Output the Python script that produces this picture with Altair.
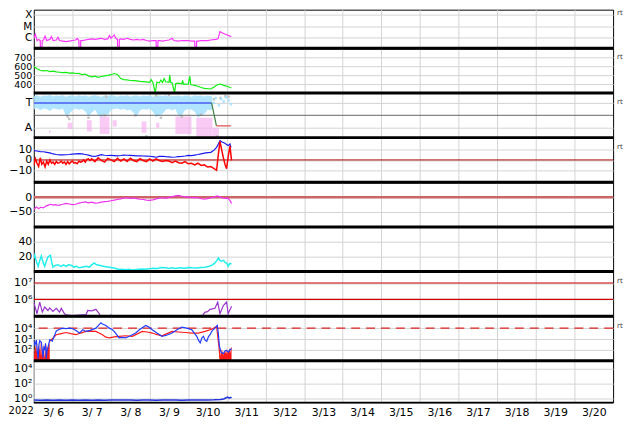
import altair as alt
import pandas as pd

W = 584
GRID = "#d3d3d3"
FONT = "DejaVu Sans"

day_grid = [24, 48, 72, 96, 120, 144, 168, 192, 216, 240, 264, 288, 312, 336]
day_ticks = [0, 24, 48, 72, 96, 120, 144, 168, 192, 216, 240, 264, 288, 312, 336]

# ---------------- data (hours since 2022-03-06 00:00, value) ----------------
xray = [(0, -6.1), (1, -5.75), (2, -6.3), (3, -6.2), (4.0, -6.3), (4.2, -7.5), (5.0, -7.5), (5.2, -6.3),
        (6, -6.25), (7, -5.9), (8, -6.3), (10, -6.2), (11, -5.95), (12, -6.3), (14, -6.25), (15, -6.0),
        (16, -6.3), (18, -6.35), (20, -6.4), (22, -6.35), (24, -6.3), (26, -6.25), (27, -6.1),
        (28.0, -6.3), (28.2, -7.5), (29.0, -7.5), (29.2, -6.3), (30, -6.3), (32, -6.25), (34, -6.2),
        (36, -6.15), (38, -6.2), (40, -6.15), (42, -6.1), (44, -6.2), (46, -6.15), (47, -5.85),
        (48, -6.1), (50, -5.8), (51, -6.1), (52.0, -6.2), (52.2, -7.5), (53.0, -7.5), (53.2, -6.2),
        (54, -6.15), (56, -6.2), (58, -6.1), (60, -6.2), (62, -6.25), (64, -6.2), (66, -6.25),
        (68, -6.2), (70, -6.3), (72, -6.35), (74, -6.3), (76.0, -6.3), (76.2, -7.5), (77.0, -7.5),
        (77.2, -6.3), (78, -6.3), (80, -6.35), (82, -6.3), (84, -6.25), (86, -6.1), (87, -6.3),
        (90, -6.35), (92, -6.3), (94, -6.3), (96, -6.3), (98, -6.35), (100.0, -6.35), (100.2, -7.5),
        (101.0, -7.5), (101.2, -6.35), (102, -6.35), (104, -6.3), (106, -6.3), (108, -6.3),
        (110, -6.25), (113, -6.2), (114.5, -6.15), (115.7, -5.5), (117, -5.6), (119, -5.73),
        (121, -5.85), (122.7, -5.95)]

speed = [(0, 598), (1, 585), (2, 572), (4, 555), (6, 548), (8, 552), (10, 540), (12, 545), (14, 536),
         (16, 532), (18, 528), (20, 530), (22, 522), (24, 526), (26, 518), (28, 520), (30, 505),
         (32, 512), (34, 492), (36, 480), (38, 488), (40, 476), (42, 485), (44, 492), (46, 498),
         (48, 505), (50, 518), (52, 508), (54, 462), (56, 450), (58, 446), (60, 440), (62, 438),
         (64, 435), (66, 430), (68, 428), (70, 425), (72, 420), (73, 450), (74, 418), (75.5, 300),
         (76.5, 420), (78, 415), (79, 445), (80, 418), (81, 460), (82, 425), (84, 420), (84.5, 500),
         (85, 420), (86, 412), (87.5, 300), (88.2, 405), (90, 410), (92, 402), (92.5, 440), (93, 400),
         (94, 400), (96, 398), (97, 488), (97.5, 395), (98, 392), (100, 385), (102, 375), (104, 362),
         (106, 352), (108, 348), (110, 345), (112, 368), (114, 392), (116, 400), (118, 385),
         (120, 375), (122, 362), (122.7, 358)]

# sector panel: light-blue band (h, lo, hi)
sector_band = [(0, 0.45, 1.55), (2, 0.6, 1.62), (4, 0.4, 1.5), (6, 0.55, 1.6), (8, 0.5, 1.58),
               (10, 0.35, 1.64), (12, 0.55, 1.52), (14, 0.5, 1.6), (16, 0.45, 1.55), (18, 0.55, 1.62),
               (20, -0.05, 1.5), (22, 0.1, 1.58), (24, 0.4, 1.6), (26, 0.55, 1.52), (28, 0.45, 1.62),
               (30, 0.5, 1.55), (32, 0.3, 1.6), (34, -0.1, 1.5), (36, 0.2, 1.58), (38, 0.45, 1.62),
               (40, 0.0, 1.55), (42, -0.2, 1.5), (44, 0.1, 1.6), (46, 0.0, 1.55), (48, 0.45, 1.62),
               (50, 0.5, 1.58), (52, 0.55, 1.5), (54, 0.45, 1.6), (56, 0.5, 1.55), (58, 0.4, 1.62),
               (60, 0.45, 1.5), (62, 0.2, 1.58), (64, -0.1, 1.6), (66, 0.4, 1.52), (68, 0.5, 1.6),
               (70, 0.45, 1.55), (72, 0.5, 1.62), (74, 0.3, 1.5), (76, -0.15, 1.58), (78, 0.0, 1.6),
               (80, 0.1, 1.55), (82, 0.45, 1.62), (84, 0.5, 1.5), (86, 0.4, 1.58), (88, 0.5, 1.55),
               (90, -0.1, 1.6), (92, 0.0, 1.52), (94, 0.4, 1.6), (96, 0.5, 1.58), (98, 0.45, 1.5),
               (100, 0.3, 1.62), (102, -0.2, 1.55), (104, 0.0, 1.6), (106, 0.1, 1.52), (108, 0.45, 1.58),
               (110, 0.4, 1.55), (111, 0.5, 1.5)]
# pink "away" clusters (h1, h2, lo, hi)
sector_away = [(9.5, 10.5, -1.4, -1.2), (21, 24, -1.1, -0.6), (33, 36, -1.3, -0.4), (41, 47, -1.5, -0.1),
               (49, 51.5, -0.9, -0.4), (67, 70, -1.4, -0.5), (76, 78, -1.0, -0.6), (88, 98, -1.5, -0.1),
               (101, 111, -1.8, -0.2), (111, 115, -1.8, -1.0)]
sector_gray = [(21, -0.1), (22, -0.3), (34, -0.2), (44, 0.0), (45, 1.5), (63, 0.0), (70, -1.7), (76, 1.6),
               (79, -0.2), (84, 1.62), (92, -0.1), (104, 0.05), (112, 1.3), (114, -1.7), (116, 1.4),
               (119, 1.55), (121, 1.5)]
sector_sparse = [(112, 1.0), (113, 1.4), (115, 0.8), (116.5, 1.3), (118, 1.1), (119.5, 1.45), (121, 1.2),
                 (122.5, 0.9)]
sector_toward = [(0, 1), (110.5, 1)]
sector_turn = [(110.5, 1), (113.5, -0.85)]
sector_final = [(113.5, -0.85), (122.5, -0.85)]

bt = [(0, 8.6), (2, 8.2), (4, 7.7), (6, 7.5), (8, 7.0), (10, 6.5), (12, 5.5), (14, 5.0), (16, 4.7),
      (18, 4.6), (20, 4.8), (22, 5.0), (24, 5.4), (26, 5.6), (28, 5.8), (30, 5.5), (32, 5.0), (34, 4.4),
      (36, 3.5), (38, 3.2), (40, 4.0), (42, 4.8), (44, 4.3), (46, 4.1), (48, 4.2), (50, 4.0), (52, 3.8),
      (54, 4.1), (56, 4.5), (58, 4.3), (60, 4.2), (62, 4.0), (64, 3.8), (66, 3.7), (68, 3.6), (70, 3.5),
      (72, 3.4), (74, 3.0), (76, 2.5), (78, 3.3), (80, 3.4), (82, 3.0), (84, 2.8), (86, 2.5), (88, 2.7),
      (90, 3.0), (92, 3.2), (94, 3.6), (96, 4.2), (98, 4.0), (100, 4.5), (102, 5.0), (104, 5.6),
      (106, 6.2), (108, 6.8), (110, 7.0), (112, 9.0), (113.6, 11.6), (114.7, 14.7), (115.7, 17.7),
      (117, 16.5), (118.5, 15.5), (120, 14.0), (120.8, 13.2), (121.9, 14.7), (122.3, 12.5),
      (122.7, 11.6)]
bz = [(0, -5), (1, 1), (2, -3), (3, -6), (4, 2), (5, -4), (6, -2), (7, -6.5), (8, -1), (9, -4), (10, 0),
      (11, -3), (12, -2), (13, -4), (14, -1.5), (15, -3), (16, -2.5), (17, -1), (18, -3), (19, -2),
      (20, -4), (21, -1.5), (22, -3.5), (23, -2), (24, -1), (25, -3), (26, -2.5), (27, -3.5), (28, -1),
      (29, -2), (30, -1.5), (31, 0), (32, -2), (33, 0.5), (34, 1), (35, -0.5), (36, 1), (38, -1.5),
      (40, 2), (42, -0.5), (44, -2), (46, 1.5), (48, 0), (50, -1.5), (52, 1.5), (54, -1), (56, 1),
      (58, -1.5), (60, 1.5), (62, -0.5), (64, -1.5), (66, 1.2), (68, -0.5), (70, -1.5), (72, 1),
      (74, -1), (76, 1), (78, -0.5), (80, -1.5), (82, -0.5), (84, -1), (86, -2.5), (88, -1), (90, -2.5),
      (92, -3), (94, -1.5), (96, -3.5), (98, -3), (100, -4.5), (102, -3), (104, -5), (106, -4.5),
      (108, -6.5), (110, -6), (112, -8), (113.6, -9.5), (114.6, 4), (115.7, 17), (116.8, 9),
      (117.8, 2), (118.8, -4), (119.8, -8), (120.8, 3), (121.9, 13), (122.4, 6), (122.9, -0.5)]

dst = [(0, -43), (1.5, -33), (3, -38), (4.5, -34), (6, -36), (7.5, -30), (9, -27), (10.5, -24), (12, -27),
       (13.5, -25), (15, -28), (16.5, -26), (18, -24), (20, -21), (22, -23), (24, -25), (26, -24),
       (28, -20), (30, -18), (32, -16), (34, -19), (36, -17), (38, -20), (40, -19), (42, -17), (44, -15),
       (46, -14), (48, -12), (50, -10), (52, -8), (54, -6), (56, -3), (58, -2), (60, -4), (62, -3),
       (64, -5), (66, -7), (68, -8), (70, -10), (72, -11), (74, -9), (76, -6), (78, -3), (80, -2),
       (82, -4), (84, -1), (86, 2), (88, 4), (90, 6), (92, 3), (94, 0), (96, 1), (98, -2), (100, -1),
       (102, -2), (104, -5), (106, -7), (108, -5), (110, -2), (112, 0), (114, 4), (115.5, 1), (117, -2),
       (119, -4), (120.5, -3), (122, -12), (122.9, -21)]

dens = [(0, 18), (0.6, 22), (1.5, 14), (2.7, 7), (3.7, 15), (4.7, 21), (5.8, 12), (6.8, 7), (7.8, 14),
        (8.8, 19.6), (10.3, 22), (11.2, 12), (11.9, 6), (13, 8), (15, 9), (17, 7), (18.5, 9), (20, 7),
        (21.5, 9), (23.2, 8.4), (25, 6), (26.5, 7), (28.4, 5), (30.5, 6), (32.5, 7), (34.5, 6), (36, 9),
        (37.6, 11.6), (39, 9), (40.7, 8.4), (43, 7), (45, 6.5), (46.9, 5.8), (49, 5), (51, 4), (53, 2.7),
        (55, 3), (57, 2.5), (59, 3.2), (61.2, 2.2), (64, 2.8), (67, 3.5), (69, 3), (71.5, 3.6), (74, 4.5),
        (77, 4), (79, 5.5), (81.8, 5), (84, 4.2), (86, 5), (88, 4), (91, 5.2), (94, 4.5), (96, 5.5),
        (98.2, 5), (101, 4.8), (104, 5.5), (106.5, 5.8), (109, 7), (111, 9), (112.6, 11.6), (113.8, 15),
        (114.7, 18.2), (115.7, 15), (116.7, 13.8), (118, 15), (119, 12), (119.8, 11.6), (120.8, 7),
        (121.8, 11), (122.9, 10.2)]

proton = [(0, 5.83), (0.6, 5.62), (2.0, 5.12), (3.7, 5.83), (5.3, 5.22), (6.8, 5.53), (8.8, 5.32),
          (9.9, 5.48), (11.9, 5.26), (14, 5.45), (16, 5.22), (17.1, 5.45), (19.1, 5.12), (20.1, 5.05),
          (24, 5.0), (28, 5.03), (32.5, 5.06), (33.5, 5.32), (36, 5.3), (38.6, 5.39), (40.7, 5.12),
          (41.7, 4.9), (42, None), (47.5, 4.9), (47.9, 5.02), (48.3, 4.9), (49, None), (98.2, 4.95),
          (99, 5.02), (100, 5.0), (101, 4.9), (102, None), (104, 4.9), (106.5, 5.22), (108, 5.25),
          (109.5, 5.39), (112.6, 5.45), (114.3, 5.83), (115.7, 5.12), (117.8, 5.62), (119.8, 5.83),
          (120.8, 5.12), (122.9, 5.58)]

elec_blue = [(0, 2.85), (0.6, 2.4), (1.6, 2.9), (2.2, 1.8), (2.7, 1.2), (3.2, 2.5), (3.7, 2.85), (4.7, 2.7),
             (5.3, 1.9), (5.8, 1.3), (6.3, 2.3), (6.8, 2.0), (7.3, 2.6), (7.8, 1.2), (8.3, 2.0), (8.8, 2.2),
             (9.9, 2.95), (11.5, 2.8), (12.8, 3.3), (14, 3.75), (16, 3.9), (18, 4.0), (20, 3.95), (22, 4.0),
             (24.2, 3.95), (26, 3.8), (28.4, 3.55), (30.4, 3.85), (32.5, 3.7), (35, 3.8), (38.6, 4.0),
             (40.5, 4.3), (41.7, 4.5), (43, 4.35), (44.8, 4.25), (46.9, 4.0), (48.5, 3.9), (50, 3.7),
             (51.5, 3.4), (53, 3.1), (55, 3.15), (57.1, 3.1), (60, 3.3), (63.3, 3.55), (66, 3.9),
             (69.5, 4.25), (71.5, 4.1), (73.6, 3.85), (76.5, 3.55), (79.7, 3.25), (82.5, 3.35),
             (85.9, 3.55), (89, 3.85), (92, 4.1), (95, 4.0), (98.2, 3.85), (100, 3.5), (101.3, 3.25),
             (102.3, 2.9), (103.4, 2.65), (104.4, 3.1), (105.4, 3.25), (106.5, 2.9), (107.5, 2.8),
             (108.5, 3.2), (109.5, 3.4), (111, 3.8), (112.6, 4.0), (114, 4.25), (114.7, 3.5), (115.3, 2.4),
             (116.3, 1.8), (117.8, 1.65), (118.8, 1.9), (119.8, 1.95), (121, 1.8), (122, 2.05), (122.9, 2.1)]
elec_red = [(9.9, 2.8), (12, 3.1), (14, 3.4), (17, 3.5), (20.1, 3.6), (23, 3.5), (26.3, 3.4), (29, 3.55),
            (32.5, 3.7), (35.5, 3.72), (38.6, 3.7), (42.7, 3.4), (44.5, 3.2), (46.9, 3.1), (50, 3.2),
            (53, 3.25), (57, 3.3), (61.2, 3.25), (64, 3.45), (67.4, 3.7), (70.5, 3.65), (73.6, 3.55),
            (76.7, 3.4), (79.7, 3.3), (82.8, 3.5), (85.9, 3.7), (90, 3.65), (94.1, 3.6), (98, 3.55),
            (102.3, 3.55), (106.4, 3.7), (110.5, 3.9), (113.6, 4.15), (115, 2.4), (115.9, 1.0)]
elec_red_start = [(0, 2.5), (0.5, 1.5), (1, 2.6), (1.5, 1.8), (2, 2.7), (2.5, 1.3), (3, 2.4), (3.5, 2.0),
                  (4, 2.8), (4.5, 1.4), (5, 2.5), (5.5, 1.9), (6, 2.6), (6.5, 1.2), (7, 2.3), (7.5, 1.6),
                  (8, 2.5), (8.5, 2.0), (9, 2.7), (9.5, 2.4), (9.9, 2.8)]
elec_red_end = [(115.5, 2.0), (116, 1.4), (116.5, 2.1), (117, 1.6), (117.5, 2.0), (118, 1.5), (118.5, 1.9),
                (119, 1.7), (119.5, 2.1), (120, 1.6), (120.5, 2.0), (121, 1.8), (121.5, 2.2), (122, 1.7),
                (122.5, 2.2), (122.9, 2.3)]

bottom_blue = [(0, -0.2), (4, -0.24), (8, -0.2), (12, -0.23), (16, -0.21), (20, -0.24), (24, -0.2),
               (28, -0.22), (32, -0.19), (36, -0.22), (40, -0.2), (44, -0.23), (48, -0.2), (52, -0.18),
               (56, -0.21), (60, -0.2), (64, -0.22), (68, -0.19), (72, -0.2), (76, -0.23), (80, -0.2),
               (84, -0.21), (88, -0.19), (92, -0.22), (96, -0.2), (100, -0.21), (104, -0.19), (108, -0.2),
               (112, -0.17), (116, -0.12), (118, -0.05), (119.5, 0.1), (120.5, 0.2), (121.5, 0.05),
               (122.5, 0.15), (122.9, 0.1)]

xray_levels = [-6, -5, -4]
speed_ticks = [400, 500, 600, 700]
sector_levels = [-1, 1]
sector_mid = [0]
imf_ticks = [-10, 0, 10]
imf_zero = [0]
dst_ticks = [-50, 0]
dst_zero = [0]
dens_ticks = [20, 40]
proton_ticks = [6, 7]
proton_thresholds = [6, 7]
elec_ticks = [2, 3, 4]
elec_threshold = [4]
bottom_ticks = [0, 2, 4]


def df(pts, cols=("h", "v")):
    return pd.DataFrame(pts, columns=list(cols))


def X(field="h", bottom=False):
    if bottom:
        ax = alt.Axis(values=day_ticks, grid=True, gridColor=GRID, ticks=False, domain=False, title=None,
                      labelExpr="'3/' + (datum.value/24 + 6 < 10 ? ' ' : '') + (datum.value/24 + 6)",
                      labelOffset=19.5, labelFlush=False, labelOverlap=False, labelPadding=4,
                      labelFontSize=11, labelFont=FONT, labelColor="black")
    else:
        ax = alt.Axis(values=day_grid, grid=True, gridColor=GRID, ticks=False, domain=False, labels=False,
                      title=None)
    return alt.X(f"{field}:Q", scale=alt.Scale(domain=[0, 360], nice=False, zero=False), axis=ax)


def Yf(domain, values, expr=None, size=11):
    kw = dict(values=values, grid=True, gridColor=GRID, ticks=False, domain=False, title=None,
              labelPadding=2, minExtent=25, maxExtent=25, labelFontSize=size, labelFont=FONT,
              labelColor="black", labelOverlap=False, labelFlush=False)
    if expr:
        kw["labelExpr"] = expr

    def make(field):
        return alt.Y(f"{field}:Q", scale=alt.Scale(domain=domain, nice=False, zero=False),
                     axis=alt.Axis(**kw))
    return make


one = pd.DataFrame({"k": [0]})


def sep():
    return alt.Chart(one).mark_rule(color="black", strokeWidth=3).encode(
        x=alt.value(0), x2=alt.value(W), y=alt.value(0))


def rt(y):
    return alt.Chart(pd.DataFrame({"t": ["rt"]})).mark_text(
        align="left", baseline="middle", fontSize=7, color="#333333", font=FONT).encode(
        x=alt.value(W + 4), y=alt.value(y), text="t:N")


def line(data, Y, color, width=1.2, bottom=False):
    return alt.Chart(df(data)).mark_line(color=color, strokeWidth=width, clip=True).encode(
        x=X(bottom=bottom), y=Y("v"))


def hline(vals, Y, color, width=1.0, dash=None):
    kw = dict(color=color, strokeWidth=width)
    if dash:
        kw["strokeDash"] = dash
    return alt.Chart(pd.DataFrame({"v": vals})).mark_rule(**kw).encode(y=Y("v"))


# ---- panel 1: X-ray
H1 = 39
Y1 = Yf([-7, -7 + H1 / 11.25], xray_levels,
        "datum.value == -6 ? 'C' : (datum.value == -5 ? 'M' : 'X')", size=10.5)
p1 = alt.layer(line(xray, Y1, "#ff33ff"), rt(3)).properties(width=W, height=H1)

# ---- panel 2: solar wind speed
Y2 = Yf([300, 800], speed_ticks, size=9.5)
p2 = alt.layer(line(speed, Y2, "#11ee11"), sep(), rt(9)).properties(width=W, height=45)

# ---- panel 3: sector
Y3 = Yf([-1.8, 1.8], sector_levels, "datum.value == 1 ? 'T' : 'A'")
band = alt.Chart(df(sector_band, ("h", "lo", "hi"))).mark_area(color="#a8e2ff", opacity=0.9, clip=True).encode(
    x=X(), y=Y3("lo"), y2="hi:Q")
away = alt.Chart(df(sector_away, ("h1", "h2", "lo", "hi"))).mark_rect(color="#f6b4ef", opacity=0.7, clip=True).encode(
    x=X("h1"), x2="h2:Q", y=Y3("lo"), y2="hi:Q")
gray = alt.Chart(df(sector_gray)).mark_square(color="#c4c4c4", size=6, opacity=1).encode(x=X(), y=Y3("v"))
sparse = alt.Chart(df(sector_sparse)).mark_square(color="#a8e2ff", size=6, opacity=1).encode(x=X(), y=Y3("v"))
p3 = alt.layer(
    band, away, gray, sparse,
    hline(sector_mid, Y3, "#666666", 1.0),
    line(sector_toward, Y3, "#4a5cf0", 1.5),
    line(sector_turn, Y3, "#3f7f3f", 1.2),
    line(sector_final, Y3, "#e05050", 1.2),
    sep(), rt(9)).properties(width=W, height=45)

# ---- panel 4: IMF
Y4 = Yf([-20.5, 20.5], imf_ticks)
p4 = alt.layer(hline(imf_zero, Y4, "#aa0000", 1.0), line(bt, Y4, "#1a1aee", 1.2),
               line(bz, Y4, "#ff0000", 1.5), sep(), rt(9)).properties(width=W, height=45)

# ---- panel 5: Dst
Y5 = Yf([-100, 50], dst_ticks)
p5 = alt.layer(hline(dst_zero, Y5, "#cc6666", 2.5), line(dst, Y5, "#ee33ee", 1.2), sep()).properties(
    width=W, height=45)

# ---- panel 6: density
Y6 = Yf([0, 60], dens_ticks)
p6 = alt.layer(line(dens, Y6, "#22eeee", 1.5), sep()).properties(width=W, height=45)

# ---- panel 7: proton flux
Y7 = Yf([4.97, 7.70], proton_ticks,
        "datum.value == 7 ? '10\u2077' : '10\u2076'")
p7 = alt.layer(hline(proton_thresholds, Y7, "#cc0000", 1.2), line(proton, Y7, "#9933cc", 1.2), sep(),
               rt(10)).properties(width=W, height=45)

# ---- panel 8: electron flux
Y8 = Yf([1.0, 5.1], elec_ticks,
        "datum.value == 4 ? '10\u2074' : (datum.value == 3 ? '10\u00b3' : '10\u00b2')")
ra = df(elec_red_start)
ra["b"] = 1.0
rb = df(elec_red_end)
rb["b"] = 1.0
area_a = alt.Chart(ra).mark_area(color="#ff1a1a", clip=True).encode(x=X(), y=Y8("v"), y2="b:Q")
area_b = alt.Chart(rb).mark_area(color="#ff1a1a", clip=True).encode(x=X(), y=Y8("v"), y2="b:Q")
p8 = alt.layer(hline(elec_threshold, Y8, "#dd2222", 1.3, [9, 6]), area_a, area_b,
               line(elec_red, Y8, "#ff1a1a", 1.2), line(elec_blue, Y8, "#1f3cff", 1.2),
               sep(), rt(10)).properties(width=W, height=45)

# ---- panel 9: bottom
Y9 = Yf([-0.53, 5.07], bottom_ticks,
        "datum.value == 4 ? '10\u2074' : (datum.value == 2 ? '10\u00b2' : '10\u2070')")
year = alt.Chart(pd.DataFrame({"t": ["2022"]})).mark_text(
    align="right", baseline="middle", fontSize=10, font=FONT, color="black").encode(
    x=alt.value(0), y=alt.value(51), text="t:N")
bot = alt.Chart(one).mark_rule(color="black", strokeWidth=1.5).encode(
    x=alt.value(0), x2=alt.value(W), y=alt.value(42))
p9 = alt.layer(line(bottom_blue, Y9, "#2233dd", 1.5, bottom=True), sep(), bot, year).properties(
    width=W, height=42)

chart = alt.vconcat(p1, p2, p3, p4, p5, p6, p7, p8, p9, spacing=0, bounds="flush").properties(
    padding={"left": 0, "top": -2, "right": 2, "bottom": 2}
).configure_view(stroke="black", strokeWidth=1).configure_axis(
    labelFont=FONT, labelColor="black", gridColor=GRID
)

chart.save("out.html", embed_options={"renderer": "svg", "actions": False})
